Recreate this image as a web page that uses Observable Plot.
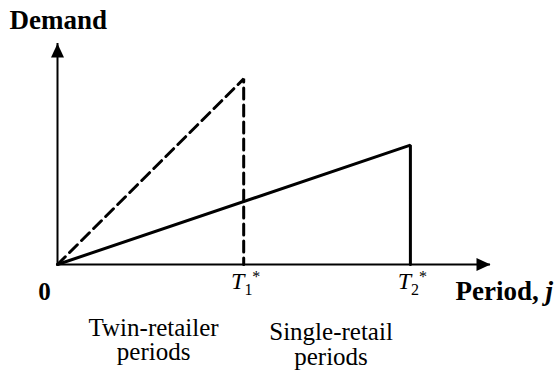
<!DOCTYPE html>
<html>
<head>
<meta charset="utf-8">
<script src="https://cdn.jsdelivr.net/npm/d3@7"></script>
<script src="https://cdn.jsdelivr.net/npm/@observablehq/plot@0.6"></script>
<style>
  html, body { margin: 0; padding: 0; background: #fff; }
  svg { display: block; }
</style>
</head>
<body>
<div id="chart"></div>
<script>
// ---- data (abstract units) ----
const xMax = 10;            // end of the period axis
const yMax = 10;            // end of the demand axis
const T1 = 4.3;             // T1*
const T2 = 8.15;            // T2*
const twinPeriods = [0, T1, T1];
const twinDemand  = [0, 8.4, 0];
const singlePeriods = [0, T2, T2];
const singleDemand  = [0, 5.4, 0];
const originLabel = "0";
const thresholdValues = [T1, T2];
const thresholdLabels = ["T1*", "T2*"];
const twinRegionLabel = "Twin-retailer\nperiods";
const singleRegionLabel = "Single-retail\nperiods";
const yTitle = "Demand";
const xTitle = "Period, j";

const twin = twinPeriods.map((x, i) => ({x, y: twinDemand[i]}));
const single = singlePeriods.map((x, i) => ({x, y: singleDemand[i]}));

const serif = "'Liberation Serif', 'Times New Roman', serif";
const arrowHead = {
  draw(ctx) { ctx.moveTo(0, 0); ctx.lineTo(6.5, 14); ctx.lineTo(-6.5, 14); ctx.closePath(); }
};

const chart = Plot.plot({
  width: 560,
  height: 371,
  marginLeft: 57,
  marginRight: 70,
  marginTop: 43,
  marginBottom: 107,
  x: {domain: [0, xMax], axis: null},
  y: {domain: [0, yMax], axis: null},
  style: {fontFamily: serif, background: "white", overflow: "visible", color: "black"},
  marks: [
    Plot.ruleY([0], {stroke: "black", strokeWidth: 2}),
    Plot.ruleX([0], {stroke: "black", strokeWidth: 2}),
    Plot.line(twin, {x: "x", y: "y", stroke: "black", strokeWidth: 3, strokeDasharray: "11,6", strokeLinejoin: "miter"}),
    Plot.line(single, {x: "x", y: "y", stroke: "black", strokeWidth: 3, strokeLinejoin: "miter"}),
    Plot.dot([yMax], {x: () => 0, y: d => d, symbol: arrowHead, fill: "black", stroke: "none"}),
    Plot.dot([xMax], {x: d => d, y: () => 0, symbol: arrowHead, rotate: 90, fill: "black", stroke: "none"}),
    Plot.text([yTitle], {x: () => 0, y: () => yMax, text: d => d, textAnchor: "start", lineAnchor: "top",
      dx: -48, dy: -34, fontFamily: serif, fontWeight: "bold", fontSize: 27}),
    Plot.text([xTitle], {x: () => xMax, y: () => 0, text: d => d, textAnchor: "start", lineAnchor: "top",
      dx: -35, dy: 16, fontFamily: serif, fontWeight: "bold", fontSize: 27}),
    Plot.text([originLabel], {x: () => 0, y: () => 0, text: d => d, textAnchor: "middle", lineAnchor: "top",
      dx: -13, dy: 18, fontFamily: serif, fontWeight: "bold", fontSize: 25}),
    Plot.text(thresholdLabels, {x: (d, i) => thresholdValues[i], y: () => 0, text: d => d, textAnchor: "middle", lineAnchor: "top",
      dx: 2, dy: 7, fontFamily: serif, fontSize: 24}),
    Plot.text([twinRegionLabel], {x: () => T1 / 2, y: () => 0, text: d => d, textAnchor: "middle", lineAnchor: "top",
      lineHeight: 0.97, dx: 3, dy: 54, fontFamily: serif, fontSize: 25}),
    Plot.text([singleRegionLabel], {x: () => (T1 + T2) / 2, y: () => 0, text: d => d, textAnchor: "middle", lineAnchor: "top",
      lineHeight: 1, dx: 4, dy: 58, fontFamily: serif, fontSize: 25})
  ]
});

document.getElementById("chart").appendChild(chart);

// typographic touches: italic T with subscript and star, italic j
const svg = chart.tagName.toLowerCase() === "svg" ? chart : chart.querySelector("svg");
d3.select(svg).selectAll("text").each(function () {
  const t = this.textContent;
  const m = /^T(\d)\*$/.exec(t);
  if (m) {
    while (this.firstChild) this.removeChild(this.firstChild);
    const s = d3.select(this);
    s.append("tspan").attr("font-style", "italic").text("T");
    s.append("tspan").attr("font-size", 16).attr("dy", 6).text(m[1]);
    s.append("tspan").attr("font-size", 16).attr("dy", -13).text("*");
  } else if (t === xTitle) {
    while (this.firstChild) this.removeChild(this.firstChild);
    const s = d3.select(this).style("white-space", "pre");
    s.append("tspan").text("Period, ");
    s.append("tspan").attr("font-style", "italic").text("j");
  }
});
</script>
</body>
</html>
